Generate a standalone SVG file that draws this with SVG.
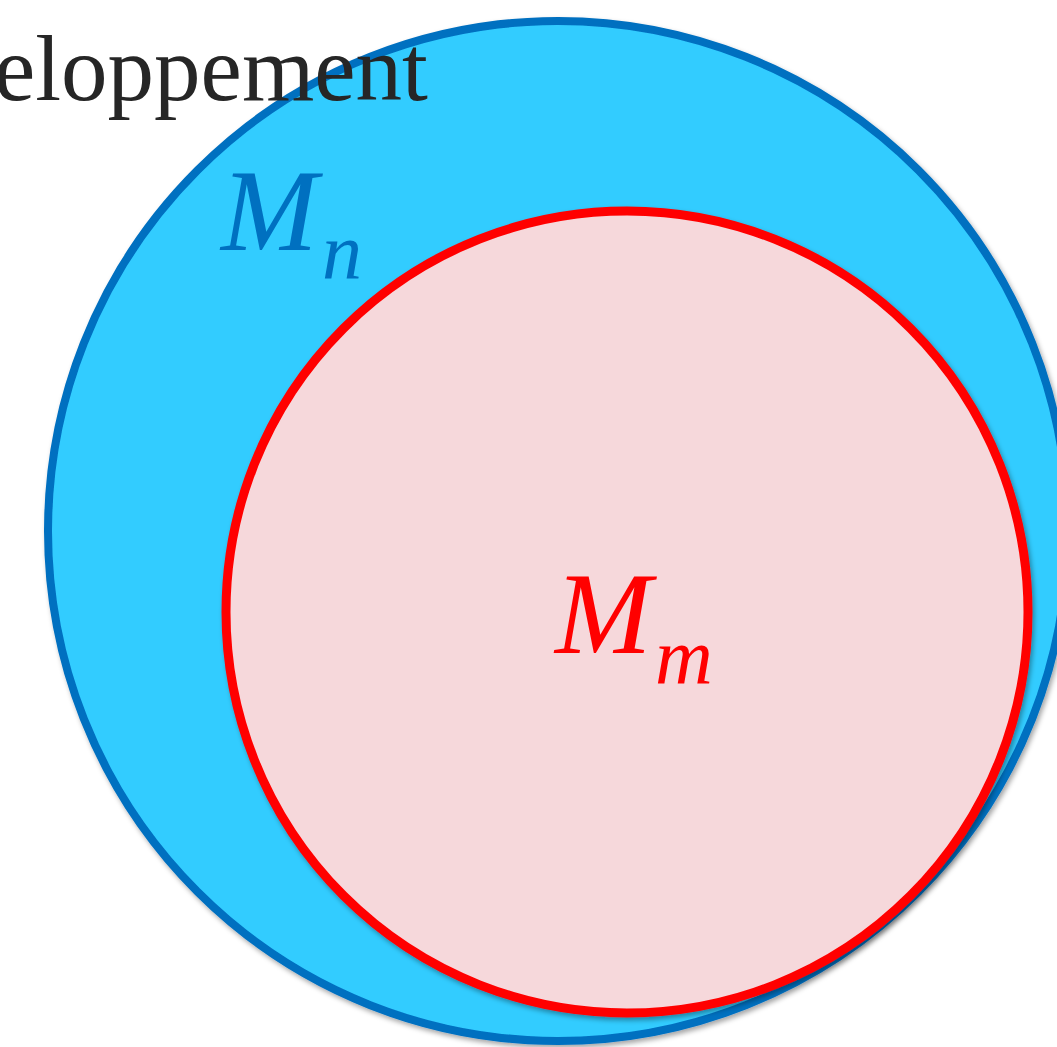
<svg xmlns="http://www.w3.org/2000/svg" width="1057" height="1047" viewBox="0 0 1057 1047">
<defs>
<filter id="sh" x="-10%" y="-10%" width="120%" height="120%">
<feDropShadow dx="2" dy="3" stdDeviation="2.5" flood-color="#000" flood-opacity="0.35"/>
</filter>
<style>
.outer{fill:#33CCFF;stroke:#0070C0;stroke-width:8}
.inner{fill:#F6D8DB;stroke:#FF0000;stroke-width:9}
.math{font-family:"Liberation Serif","Times New Roman",serif;font-style:italic}
.title{font-family:"Liberation Serif","Times New Roman",serif;fill:#262626}
</style>
</defs>
<rect width="1057" height="1047" fill="#FFFFFF"/>
<g id="Mn">
<circle class="outer" cx="558" cy="531" r="510" filter="url(#sh)"/>
<text class="math" x="221" y="250" font-size="116" fill="#0070C0">M<tspan x="322" y="278" font-size="80">n</tspan></text>
</g>
<g id="Mm">
<circle class="inner" cx="627" cy="612" r="401" filter="url(#sh)"/>
<text class="math" x="555" y="653" font-size="116" fill="#FF0000">M<tspan x="655" y="683" font-size="80">m</tspan></text>
</g>
<g id="title">
<text class="title" x="-6" y="100" font-size="93">eloppement</text>
</g>
<g id="connectors"/>
</svg>
